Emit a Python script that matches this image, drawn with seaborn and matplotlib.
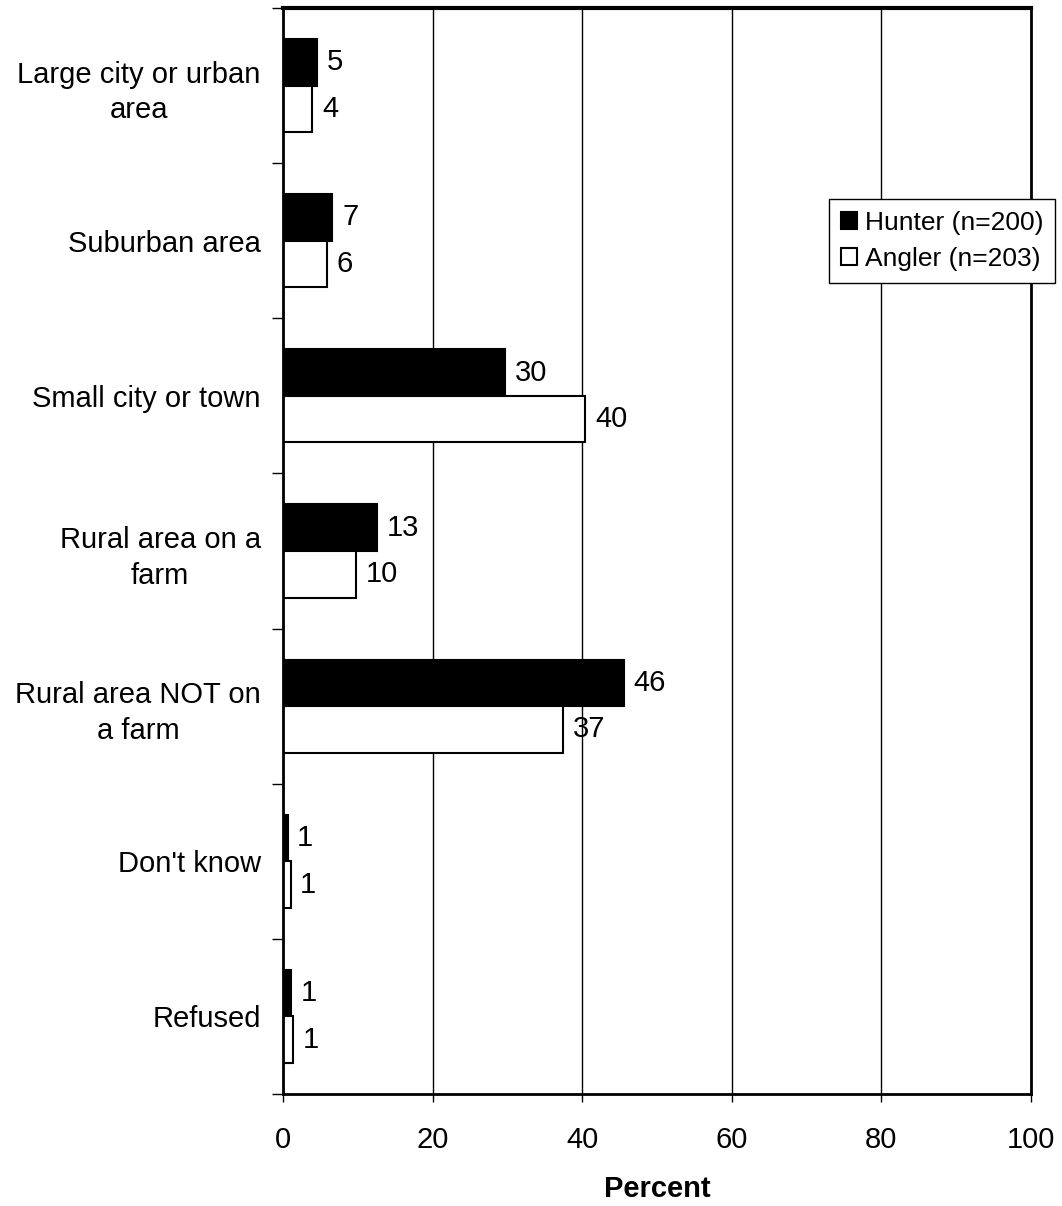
import numpy as np
import matplotlib
matplotlib.use("Agg")
import matplotlib.pyplot as plt
import pandas as pd
import seaborn as sns

sns.set_style("white")
plt.rcParams['font.family'] = ['Liberation Sans', 'DejaVu Sans']
plt.rcParams['text.color'] = 'black'
plt.rcParams['axes.labelcolor'] = 'black'
plt.rcParams['xtick.color'] = 'black'
plt.rcParams['ytick.color'] = 'black'

# Datos
categorias = ["Large city or urban\narea", "Suburban area", "Small city or town",
              "Rural area on a\nfarm", "Rural area NOT on\na farm", "Don't know", "Refused"]
hunter = [4.6, 6.6, 29.7, 12.6, 45.6, 0.6, 1.1]
angler = [3.9, 5.9, 40.4, 9.8, 37.4, 1.0, 1.4]
hunter_lbl = ["5", "7", "30", "13", "46", "1", "1"]
angler_lbl = ["4", "6", "40", "10", "37", "1", "1"]
grupos = ["Hunter (n=200)", "Angler (n=203)"]

df = pd.DataFrame({
    "Categoria": categorias * 2,
    "Percent": hunter + angler,
    "Grupo": [grupos[0]] * len(categorias) + [grupos[1]] * len(categorias),
})

fig = plt.figure(figsize=(10.62, 12.06), dpi=100)
ax = fig.add_axes([0.2665, 0.0929, 0.7043, 0.9005])

sns.barplot(data=df, y="Categoria", x="Percent", hue="Grupo", orient="h",
            palette={grupos[0]: "black", grupos[1]: "white"}, saturation=1,
            edgecolor="black", linewidth=1.5, width=0.6, ax=ax, legend=True)

# Etiquetas de valores
for cont, lbls in zip(ax.containers, [hunter_lbl, angler_lbl]):
    ax.bar_label(cont, labels=lbls, padding=7, fontsize=21)

ax.set_xlim(0, 100)
ax.set_ylim(len(categorias) - 0.5, -0.5)
ax.set_xticks([0, 20, 40, 60, 80, 100])
ax.tick_params(axis='x', labelsize=21, length=6, width=1, direction='out', pad=17, bottom=True)
ax.xaxis.grid(True, color='black', linewidth=1)
ax.set_axisbelow(True)

ax.set_yticks(range(len(categorias)))
ax.set_yticklabels(categorias, fontsize=21, multialignment='center', linespacing=1.35)
ax.tick_params(axis='y', which='major', length=0, pad=16)
ax.set_yticks(np.arange(-0.5, len(categorias), 1), minor=True)
ax.tick_params(axis='y', which='minor', length=8, width=1, direction='out', left=True)

ax.set_ylabel("")
ax.set_xlabel("Percent", fontsize=21, fontweight='bold', labelpad=15)

for lado, lw in [("left", 2), ("right", 2), ("top", 3), ("bottom", 2)]:
    ax.spines[lado].set_visible(True)
    ax.spines[lado].set_color("black")
    ax.spines[lado].set_linewidth(lw)

handles, labels = ax.get_legend_handles_labels()
leg = ax.legend(handles, labels, loc='upper left', bbox_to_anchor=(0.781, 0.835),
                bbox_transform=fig.transFigure, fontsize=19, frameon=True,
                fancybox=False, framealpha=1, edgecolor='black', handlelength=0.6,
                handleheight=0.6, handletextpad=0.3, borderpad=0.45, labelspacing=0.45,
                borderaxespad=0)
leg.get_frame().set_linewidth(1)

fig.savefig("out.png", dpi=100)
